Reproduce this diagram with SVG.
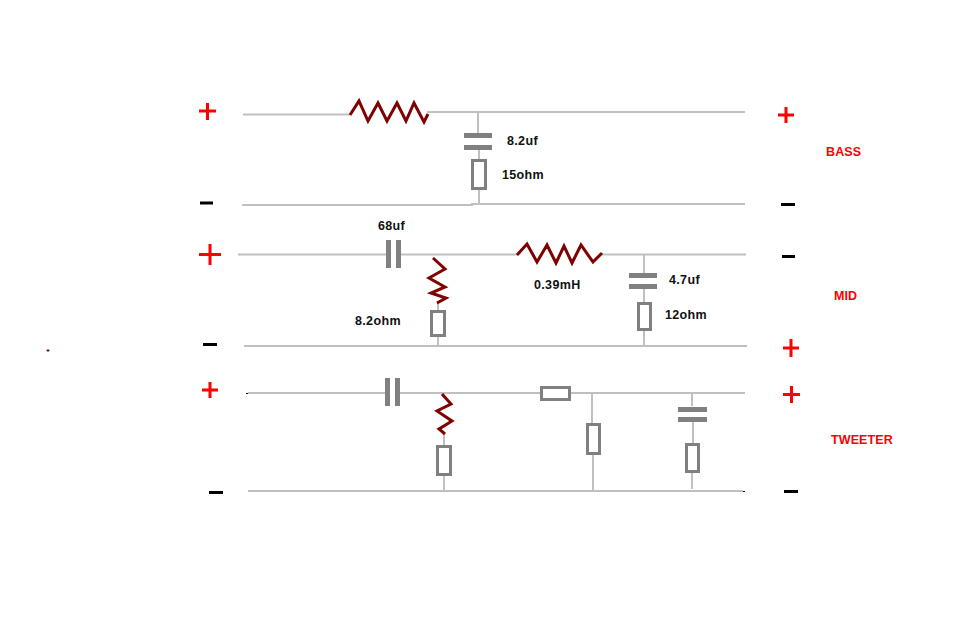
<svg xmlns="http://www.w3.org/2000/svg" width="959" height="640" viewBox="0 0 959 640">
<style>
.w{fill:none;stroke:#c0c0c0;stroke-width:2}
.r{fill:#fff;stroke:#808080;stroke-width:3}
.p{fill:#808080;stroke:none}
.z{fill:none;stroke:#800000;stroke-width:3;stroke-linejoin:miter}
.s{fill:none;stroke:#f00;stroke-width:3}
.m{fill:none;stroke:#000;stroke-width:3}
.k{fill:none;stroke:#000;stroke-width:1}
.t{font-family:"Liberation Sans",Arial,sans-serif;font-weight:700;font-size:12.5px;letter-spacing:.35px;fill:#111}
.h{font-family:"Liberation Sans",Arial,sans-serif;font-weight:700;font-size:12.5px;letter-spacing:.1px;fill:#f00}
</style>
<rect width="959" height="640" fill="#fff"/>
<g id="connectors">
<path class="w" d="M243 114.500H350M427 112H745M478 112V133M479 150V160M479 189V204M242 205H472V204H745"/>
<path class="w" d="M238 254.500H386M401 254.500H517M602 254.500H746M644 254.500V273M644 289V303M644 330V346M438 303V311M438 336V346M244 346H747"/>
<path class="w" d="M248 393H385M400 393H540M571 393H745M592 393V423M593 455V491M692 393V406M693 422V443M692 473V489M444 434V445M444 476V491M248 491H743"/>
<path class="k" d="M246 393.500H248M743 491.500H745"/>
</g>
<g id="bass-resistor"><polyline class="z" points="350,115 359,101 368,121 378,103 387,121 397,103 406,121 414,103 424,122 428,114"/></g>
<g id="bass-cap"><rect class="p" x="464" y="133" width="28" height="5"/><rect class="p" x="464" y="145" width="28" height="5"/><text class="t" x="507" y="145">8.2uf</text></g>
<g id="bass-load"><rect class="r" x="472.500" y="160.500" width="13" height="28"/><text class="t" x="502" y="179">15ohm</text></g>
<g id="mid-cap"><rect class="p" x="386" y="240" width="5" height="28"/><rect class="p" x="396" y="240" width="5" height="28"/><text class="t" x="378" y="230">68uf</text></g>
<g id="mid-shunt-resistor"><polyline class="z" points="433,258 445,269 429,278 445,287 431,293 446,298 437,303"/></g>
<g id="mid-shunt-load"><rect class="r" x="431.500" y="311.500" width="13" height="24"/><text class="t" x="355" y="325">8.2ohm</text></g>
<g id="mid-inductor"><polyline class="z" points="517,255 527,244 537,262 547,245 556,263 564,246 572,263 581,245 593,262 602,253"/><text class="t" x="534" y="289">0.39mH</text></g>
<g id="mid-cap2"><rect class="p" x="629" y="273" width="28" height="5"/><rect class="p" x="629" y="284" width="28" height="5"/><text class="t" x="669" y="284">4.7uf</text></g>
<g id="mid-load"><rect class="r" x="638.500" y="303.500" width="12" height="26"/><text class="t" x="665" y="319">12ohm</text></g>
<g id="tw-cap"><rect class="p" x="385" y="378" width="5" height="28"/><rect class="p" x="395" y="378" width="5" height="28"/></g>
<g id="tw-shunt-resistor"><polyline class="z" points="442,394 451,404 437,411 452,421 439,429 445,434"/></g>
<g id="tw-shunt-load"><rect class="r" x="437.500" y="446.500" width="13" height="28"/></g>
<g id="tw-series-resistor"><rect class="r" x="541.500" y="387.500" width="28" height="12"/></g>
<g id="tw-mid-load"><rect class="r" x="587.500" y="424.500" width="12" height="29"/></g>
<g id="tw-cap2"><rect class="p" x="678" y="407" width="29" height="5"/><rect class="p" x="678" y="417" width="29" height="5"/></g>
<g id="tw-load"><rect class="r" x="686.500" y="444.500" width="12" height="27"/></g>
<g id="signs-plus">
<path class="s" d="M199 111H216M207.500 103V120M199 254.500H221M210 244V265M202 390H218M210 382V398M778 115H794M786 107V123M783 348H799M791 339V357M783 394.500H800M791.500 386V403"/>
</g>
<g id="signs-minus">
<path class="m" d="M200 203H213M203 344.500H217M209 492.500H223M781 204.500H795M782 256.500H795M784 491.500H798"/>
</g>
<g id="labels">
<text class="h" x="826" y="156">BASS</text>
<text class="h" x="834" y="300">MID</text>
<text class="h" x="831" y="444">TWEETER</text>
</g>
<g id="dot"><path d="M46.500 350.500H49.500M48 349V352" stroke="#800000" stroke-width="1" fill="none"/></g>
</svg>
